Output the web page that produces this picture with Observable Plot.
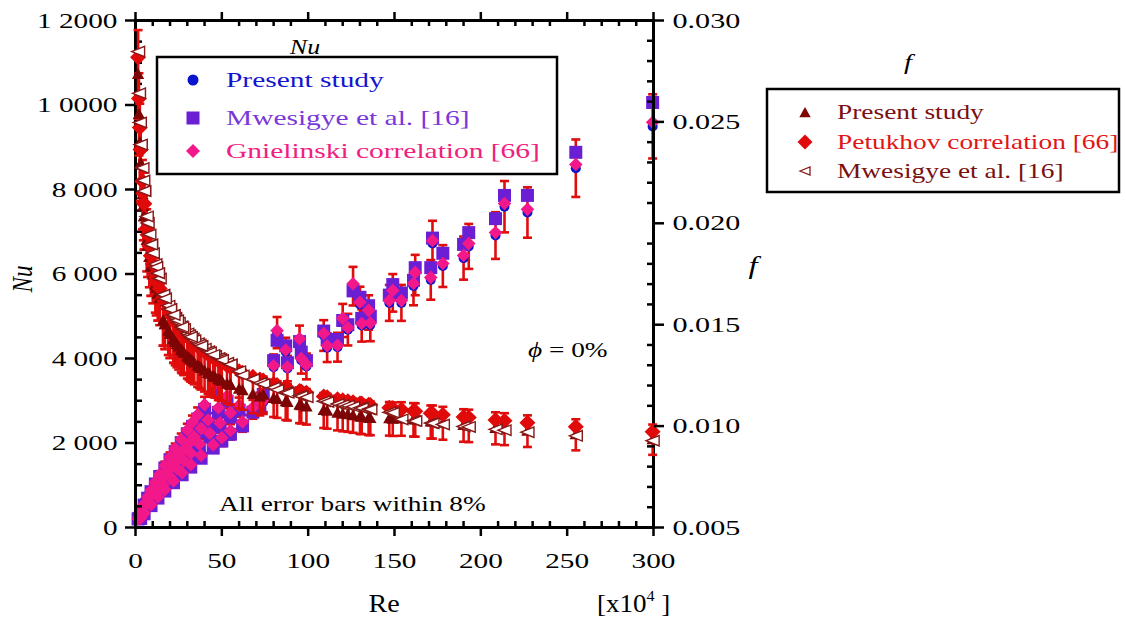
<!DOCTYPE html>
<html><head><meta charset="utf-8">
<script src="https://cdn.jsdelivr.net/npm/d3@7"></script>
<script src="https://cdn.jsdelivr.net/npm/@observablehq/plot@0.6"></script>
<style>
body{margin:0;background:#fff;}
#wrap{position:relative;width:1126px;height:621px;overflow:hidden;background:#fff;}
#wrap svg{position:absolute;left:0;top:0;}
</style></head><body><div id="wrap"></div>
<script>
// ---------- data (Re in units of 10^4) ----------
const re = [
1.5,3,5,7,9,11.5,14,17,20,23,26.5,30,33,36,40,46,
2,4,6.5,10,13,16,19,22,25,28,31,34,38,42,48,53,
2.5,4.5,8,12,16,20,24,28,32,37,43,49,55,60,
3,5,9,13,17,22,27,32,38,45,50,55,62,68,72,
74,80,82,87,88,95,96,99,109,111,117,120,123,126,130,131,135,136,147,149,154,161,162,171,172,178,190,193,208.5,213.7,227,255,299.5];
const nuGnielinski = [
210,366,551,721,882,1073,1255,1466,1670,1868,2090,2309,2490,2671,2908,3400,
223,388,572,808,996,1176,1350,1518,1681,1841,1996,2147,2346,2545,2834,3110,
229,366,581,803,1011,1209,1398,1582,1759,1975,2229,2476,2717,2890,
224,337,539,724,897,1103,1298,1487,1705,1955,2127,2297,2500,2840,3000,
3000,3830,4660,4200,3800,4470,4000,3850,4590,4300,4310,4950,4730,5770,5330,4830,5140,4840,5370,5610,5370,5775,6035,5920,6790,6250,6440,6720,6980,7670,7530,8590,9590];
const nuPresent = [
207,360,543,710,869,1057,1236,1444,1645,1840,2059,2274,2453,2631,2864,3349,
220,382,563,796,981,1158,1330,1495,1656,1813,1966,2115,2311,2507,2791,3063,
226,361,572,791,996,1191,1377,1558,1733,1945,2196,2439,2676,2847,
221,332,531,713,884,1086,1279,1465,1679,1926,2095,2263,2463,2797,2955,
2970,3792,4613,4158,3762,4425,3960,3812,4544,4257,4267,4900,4683,5712,5277,4782,5089,4792,5316,5554,5316,5717,5975,5861,6722,6188,6376,6653,6910,7593,7455,8504,9494];
const nuMwesigye = [
201,352,530,694,848,1031,1207,1409,1606,1796,2010,2220,2394,2568,2796,3270,
214,373,550,776,957,1130,1298,1459,1616,1770,1919,2064,2255,2446,2724,2990,
220,352,558,772,972,1162,1344,1521,1691,1899,2143,2380,2612,2779,
215,324,518,696,862,1060,1248,1429,1639,1879,2045,2208,2404,2730,2884,
3150,3950,4430,4300,3900,4400,4150,3950,4650,4450,4450,4900,4800,5600,5450,4950,5250,5000,5500,5750,5550,5850,6150,6150,6850,6490,6700,6980,7310,7860,7860,8880,10060];
const fPetukhov = [
.02819,.02364,.02096,.01944,.01840,.01747,.01678,.01613,.01561,.01519,.01478,.01443,.01418,.01395,.01368,.01333,
.02615,.02207,.01975,.01799,.01703,.01632,.01578,.01533,.01495,.01463,.01434,.01410,.01381,.01355,.01323,.01299,
.02472,.02147,.01888,.01732,.01632,.01561,.01507,.01463,.01426,.01388,.01350,.01318,.01291,.01271,
.02364,.02096,.01840,.01703,.01613,.01533,.01473,.01426,.01381,.01338,.01313,.01291,.01263,.01243,.01230,
.01225,.01208,.01203,.01191,.01188,.01173,.01171,.01165,.01146,.01142,.01132,.01127,.01123,.01118,.01112,.01111,.01105,.01104,.01090,.01088,.01082,.01074,.01073,.01063,.01062,.01056,.01045,.01043,.01030,.01026,.01016,.00997,.00972];
const fPresent = [
.02734,.02293,.02033,.01886,.01785,.01695,.01628,.01500,.01452,.01413,.01375,.01342,.01319,.01297,.01272,.01240,
.02537,.02141,.01916,.01745,.01652,.01518,.01468,.01426,.01390,.01361,.01334,.01311,.01284,.01260,.01230,.01208,
.02398,.02083,.01831,.01680,.01518,.01452,.01402,.01361,.01326,.01291,.01256,.01226,.01201,.01182,
.02293,.02033,.01785,.01652,.01500,.01426,.01370,.01326,.01284,.01244,.01221,.01201,.01175,.01156,.01144,
.01152,.01136,.01131,.01120,.01117,.01103,.01101,.01095,.01077,.01073,.01064,.01059,.01056,.01051,.01045,.01044,.01039,.01038,.01036,.01034,.01035,.01031,.01030,.01020,.01020,.01014,.01003,.01001,.00989,.00985,.00975,.00957,.00933];
const fMwesigye = [
.02847,.02388,.02159,.02002,.01895,.01799,.01728,.01629,.01577,.01534,.01493,.01457,.01432,.01409,.01382,.01346,
.02641,.02273,.02034,.01853,.01754,.01648,.01594,.01548,.01510,.01478,.01448,.01424,.01395,.01369,.01336,.01312,
.02497,.02211,.01945,.01784,.01648,.01577,.01522,.01478,.01440,.01402,.01364,.01331,.01304,.01271,
.02388,.02159,.01895,.01754,.01629,.01548,.01488,.01440,.01395,.01351,.01326,.01304,.01250,.01231,.01212,
.01207,.01190,.01179,.01167,.01164,.01150,.01148,.01142,.01123,.01119,.01109,.01104,.01101,.01096,.01090,.01089,.01083,.01082,.01068,.01066,.01033,.01026,.01025,.01015,.01014,.01008,.00998,.00996,.00984,.00980,.00970,.00952,.00928];
const errFrac = 0.08; // "All error bars within 8%"

// ---------- ticks ----------
const reTicks = [0,50,100,150,200,250,300];
const reTickLabels = ["0","50","100","150","200","250","300"];
const reMinor = [10,20,30,40,60,70,80,90,110,120,130,140,160,170,180,190,210,220,230,240,260,270,280,290];
const nuTicks = [0,2000,4000,6000,8000,10000,12000];
const nuTickLabels = ["0","2 000","4 000","6 000","8 000","1 0000","1 2000"];
const nuMinor = [500,1000,1500,2500,3000,3500,4500,5000,5500,6500,7000,7500,8500,9000,9500,10500,11000,11500];
const fTicks = [0.005,0.010,0.015,0.020,0.025,0.030];
const fTickLabels = ["0.005","0.010","0.015","0.020","0.025","0.030"];
const fMinor = [0.006,0.007,0.008,0.009,0.011,0.012,0.013,0.014,0.016,0.017,0.018,0.019,0.021,0.022,0.023,0.024,0.026,0.027,0.028,0.029];

// ---------- legend / labels ----------
const nuLegend = ["Present study","Mwesigye et al. [16]","Gnielinski correlation [66]"];
const fLegend = ["Present study","Petukhov correlation [66]","Mwesigye et al. [16]"];

const C = {blue:"#0a14cc", purple:"#6a1fd4", pink:"#f2188a", err:"#e00d0d",
  dark:"#7d0505", red:"#e00a0a", open:"#861818",
  blueT:"#1414d0", purpleT:"#7a38d8", pinkT:"#f0207f", darkT:"#7a1010", redT:"#e01515"};

// ---------- symbols ----------
const rr = s => Math.sqrt(s/Math.PI);
const symSquare = {draw(c,s){const r=rr(s);c.moveTo(-r,-r);c.lineTo(r,-r);c.lineTo(r,r);c.lineTo(-r,r);c.closePath();}};
const symDiamond = {draw(c,s){const r=rr(s);c.moveTo(0,-r);c.lineTo(r,0);c.lineTo(0,r);c.lineTo(-r,0);c.closePath();}};
const symTriUp = {draw(c,s){const r=rr(s);c.moveTo(0,-r);c.lineTo(r*0.95,r*0.7);c.lineTo(-r*0.95,r*0.7);c.closePath();}};
const symTriLeft = {draw(c,s){const r=rr(s);c.moveTo(-r,0);c.lineTo(r,-0.8*r);c.lineTo(r,0.8*r);c.closePath();}};
const symCap = {draw(c,s){const r=rr(s);c.moveTo(-r,0);c.lineTo(r,0);}};

const rows = re.map((r,i)=>({re:r,nuP:nuPresent[i],nuM:nuMwesigye[i],nuG:nuGnielinski[i],fP:fPresent[i],fK:fPetukhov[i],fM:fMwesigye[i]}));

const W=1126,H=621, fL=135, fR=653, fT=20, fB=527;
const FONT = "'Liberation Serif','Times New Roman',serif";
const common = {width:W,height:H,marginLeft:fL,marginRight:W-fR,marginTop:fT,marginBottom:H-fB,
  style:{fontFamily:FONT,fontSize:"22px",color:"#000",background:"transparent",maxWidth:"none"}};
const fmt = (ticks,labels) => d => { const k = ticks.findIndex(t=>Math.abs(t-d)<1e-9); return k<0?"":labels[k]; };
const axisStyle = {stroke:"#000",strokeWidth:2.5,label:null};

const pNu = Plot.plot({...common,
  x:{domain:[0,300]}, y:{domain:[0,12000]},
  marks:[
    Plot.ruleX(rows,{x:"re",y1:d=>d.nuP*(1-errFrac),y2:d=>d.nuP*(1+errFrac),stroke:C.err,strokeWidth:2.6}),
    Plot.dot(rows,{x:"re",y:d=>d.nuP*(1-errFrac),symbol:symCap,r:4.5,stroke:C.err,strokeWidth:2.6,fill:"none"}),
    Plot.dot(rows,{x:"re",y:d=>d.nuP*(1+errFrac),symbol:symCap,r:4.5,stroke:C.err,strokeWidth:2.6,fill:"none"}),
    Plot.dot(rows,{x:"re",y:"nuP",symbol:"circle",r:5,fill:C.blue,stroke:"none"}),
    Plot.dot(rows,{x:"re",y:"nuM",symbol:symSquare,r:6.5,fill:C.purple,stroke:"none"}),
    Plot.dot(rows,{x:"re",y:"nuG",symbol:symDiamond,r:6.8,fill:C.pink,stroke:"none"}),
    Plot.frame({stroke:"#000",strokeWidth:3}),
    Plot.axisY({...axisStyle,anchor:"left",ticks:nuTicks,tickSize:10,tickPadding:8,tickFormat:fmt(nuTicks,nuTickLabels)}),
    Plot.axisY({...axisStyle,anchor:"left",ticks:nuMinor,tickSize:-7,tickFormat:()=>""}),
    Plot.axisX({...axisStyle,anchor:"bottom",ticks:reTicks,tickSize:9,tickPadding:16,tickFormat:fmt(reTicks,reTickLabels)}),
    Plot.axisX({...axisStyle,anchor:"bottom",ticks:reMinor,tickSize:-6,tickFormat:()=>""}),
    Plot.axisX({...axisStyle,anchor:"top",ticks:reTicks,tickSize:9,tickFormat:()=>""}),
    Plot.axisX({...axisStyle,anchor:"top",ticks:reMinor,tickSize:-5,tickFormat:()=>""})
  ]});

const pF = Plot.plot({...common,
  x:{domain:[0,300],axis:null}, y:{domain:[0.005,0.030]},
  marks:[
    Plot.ruleX(rows,{x:"re",y1:d=>d.fP*(1-errFrac),y2:d=>d.fP*(1+errFrac),stroke:C.err,strokeWidth:2.6}),
    Plot.dot(rows,{x:"re",y:d=>d.fP*(1-errFrac),symbol:symCap,r:4.5,stroke:C.err,strokeWidth:2.6,fill:"none"}),
    Plot.dot(rows,{x:"re",y:d=>d.fP*(1+errFrac),symbol:symCap,r:4.5,stroke:C.err,strokeWidth:2.6,fill:"none"}),
    Plot.dot(rows,{x:"re",y:"fP",symbol:symTriUp,r:6.5,fill:C.dark,stroke:"none"}),
    Plot.dot(rows,{x:"re",y:"fK",symbol:symDiamond,r:8,fill:C.red,stroke:"none"}),
    Plot.dot(rows,{x:"re",y:"fM",symbol:symTriLeft,r:6.5,fill:"#fff",stroke:C.open,strokeWidth:1.4}),
    Plot.axisY({...axisStyle,anchor:"right",ticks:fTicks,tickSize:10,tickPadding:9,tickFormat:fmt(fTicks,fTickLabels)}),
    Plot.axisY({...axisStyle,anchor:"right",ticks:fMinor,tickSize:-7,tickFormat:()=>""})
  ]});

const wrap=document.getElementById("wrap");
wrap.appendChild(pNu); wrap.appendChild(pF);

// the reference typesetting is horizontally widened: widen glyphs in place (position untouched)
function stretch(svg,s){
  svg.querySelectorAll("text").forEach(t=>{
    if(!t.textContent) return;
    const L=t.getComputedTextLength();
    if(L>0){ t.setAttribute("textLength",(L*s).toFixed(2)); t.setAttribute("lengthAdjust","spacingAndGlyphs"); }
  });
}
stretch(pNu,1.33); stretch(pF,1.37);

// ---------- overlay: titles, legends, annotations ----------
const ov=d3.select(wrap).append("svg").attr("width",W).attr("height",H).style("font-family",FONT);
function txt(x,y,str,o={}){
  const {size=21,s=1.37,anchor="start",fill="#000",italic=false,rotate=0}=o;
  const t=ov.append("text").attr("transform",`translate(${x},${y}) scale(${s},1)${rotate?` rotate(${rotate})`:""}`)
    .attr("text-anchor",anchor).attr("font-size",size).attr("fill",fill);
  if(italic) t.attr("font-style","italic");
  if(str!=null) t.text(str);
  return t;
}
function mark(x,y,sym,r,attrs){
  const p=d3.path(); sym.draw(p,Math.PI*r*r);
  const e=ov.append("path").attr("d",p.toString()).attr("transform",`translate(${x},${y})`);
  for(const k in attrs) e.attr(k,attrs[k]);
}
const symCircle={draw(c,s){const r=rr(s);c.moveTo(r,0);c.arc(0,0,r,0,2*Math.PI);}};

// Nu legend
ov.append("rect").attr("x",157).attr("y",57).attr("width",400).attr("height",117).attr("fill","none").attr("stroke","#000").attr("stroke-width",2.5);
txt(305,54,"Nu",{size:20,italic:true,anchor:"middle",s:1.3});
mark(193,80,symCircle,5.5,{fill:C.blue});
mark(193,118,symSquare,6.5,{fill:C.purple});
mark(193,151,symDiamond,7,{fill:C.pink});
txt(226,87,nuLegend[0],{size:21.5,fill:C.blueT});
txt(226,125,nuLegend[1],{size:21.5,fill:C.purpleT});
txt(226,158,nuLegend[2],{size:21.5,fill:C.pinkT});

// f legend
ov.append("rect").attr("x",767).attr("y",89).attr("width",352).attr("height",103).attr("fill","none").attr("stroke","#000").attr("stroke-width",2.5);
txt(908,69,"f",{size:22,italic:true,anchor:"middle",s:1.3});
mark(805,113,symTriUp,6,{fill:C.dark});
mark(805,142,symDiamond,7.5,{fill:C.red});
mark(805,171,symTriLeft,5,{fill:"#fff",stroke:C.open,"stroke-width":1.3});
txt(837,119,fLegend[0],{size:20,fill:C.darkT});
txt(837,149,fLegend[1],{size:20,fill:C.redT});
txt(837,178,fLegend[2],{size:20,fill:C.darkT});

// axis titles
txt(32,279,"Nu",{size:23,italic:true,anchor:"middle",s:1.3,rotate:-90});
txt(753,274,"f",{size:25,italic:true,anchor:"middle",s:1.3});
txt(384,612,"Re",{size:26,anchor:"middle",s:1.08});
const u=txt(597,612,null,{size:25,s:1.08});
u.append("tspan").text("[x10");
u.append("tspan").attr("dy",-11).attr("font-size",15).text("4");
u.append("tspan").attr("dy",11).text(" ]");

// annotations
const ph=txt(528,357,null,{size:21,s:1.3});
ph.append("tspan").attr("font-style","italic").text("ϕ");
ph.append("tspan").text(" = 0%");
txt(219,511,"All error bars within 8%",{size:21,s:1.3});
</script></body></html>
